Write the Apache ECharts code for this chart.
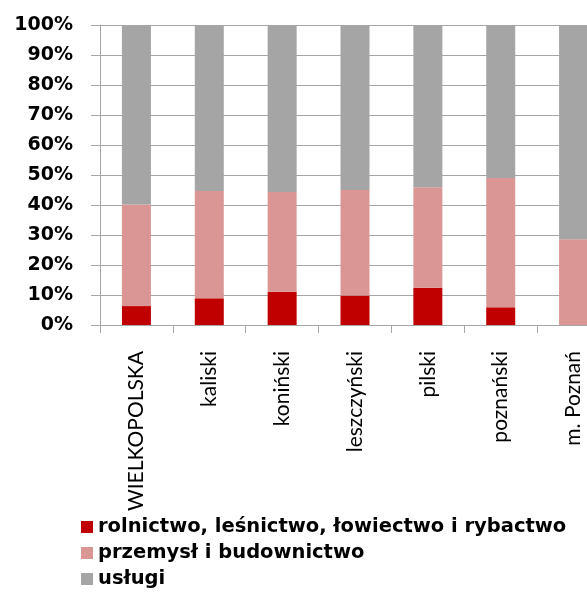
<!DOCTYPE html>
<html>
<head>
<meta charset="utf-8">
<script src="https://cdn.jsdelivr.net/npm/echarts@6/dist/echarts.min.js"></script>
<style>
    html, body { margin: 0; padding: 0; background: #fff; }
    #main { width: 587px; height: 592px; }
</style>
</head>
<body>
<div id="main"></div>
<script>
// dane z wykresu (udział pracujących wg sektorów, %)
var categories = ['WIELKOPOLSKA', 'kaliski', 'koniński', 'leszczyński', 'pilski', 'poznański', 'm. Poznań'];
var seriesNames = ['rolnictwo, leśnictwo, łowiectwo i rybactwo', 'przemysł i budownictwo', 'usługi'];
var rolnictwo = [6.3, 8.9, 11.1, 9.8, 12.4, 5.9, 0];
var przemysl = [33.9, 35.8, 33.2, 35.2, 33.5, 43.1, 28.6];
var uslugi = [59.8, 55.3, 55.7, 55.0, 54.1, 51.0, 71.4];
var yTicks = [0, 10, 20, 30, 40, 50, 60, 70, 80, 90, 100];

var SectorChart = function() {
    var t = {
        init : function(div) {
            t.renderChart(div);
        },
        // słupek skumulowany
        bar : function(name, data, color) {
            return {
                name : name,
                type : 'bar',
                stack : 'total',
                barWidth : 29,
                data : data,
                itemStyle : { color : color },
                emphasis : { disabled : true }
            };
        },
        renderChart : function(div) {
            var chart = echarts.init(document.getElementById(div));
            var grey = '#a6a6a6';
            var option = {
                animation : false,
                backgroundColor : '#fff',
                grid : {
                    left : 100,
                    top : 25,
                    right : -23,
                    bottom : 267,
                    containLabel : false,
                    outerBoundsMode : 'none'
                },
                legend : {
                    orient : 'vertical',
                    left : 81,
                    top : 516,
                    padding : 0,
                    itemWidth : 12,
                    itemHeight : 12,
                    itemGap : 4,
                    icon : 'rect',
                    data : seriesNames,
                    textStyle : {
                        fontFamily : 'DejaVu Sans',
                        fontWeight : 'bold',
                        fontSize : 19.5,
                        lineHeight : 22,
                        color : '#000'
                    }
                },
                xAxis : {
                    type : 'category',
                    data : categories,
                    axisLine : { lineStyle : { color : grey, width : 1 } },
                    axisTick : { show : true, length : 8, lineStyle : { color : grey } },
                    axisLabel : {
                        interval : 0,
                        rotate : 90,
                        margin : 26,
                        fontFamily : 'Lato',
                        fontSize : 21,
                        color : '#000'
                    }
                },
                yAxis : {
                    type : 'value',
                    min : yTicks[0],
                    max : yTicks[yTicks.length - 1],
                    interval : 10,
                    axisLine : { show : true, lineStyle : { color : grey, width : 1 } },
                    axisTick : { show : true, length : 9, lineStyle : { color : grey } },
                    splitLine : { show : true, lineStyle : { color : grey, width : 1 } },
                    axisLabel : {
                        margin : 27,
                        fontFamily : 'DejaVu Sans',
                        fontWeight : 'bold',
                        fontSize : 19,
                        color : '#000',
                        formatter : '{value}%'
                    }
                },
                series : [
                    t.bar(seriesNames[0], rolnictwo, '#c00000'),
                    t.bar(seriesNames[1], przemysl, '#d99694'),
                    t.bar(seriesNames[2], uslugi, '#a5a5a5')
                ]
            };
            chart.setOption(option);
        }
    };
    return t;
}();

SectorChart.init('main');
</script>
</body>
</html>
